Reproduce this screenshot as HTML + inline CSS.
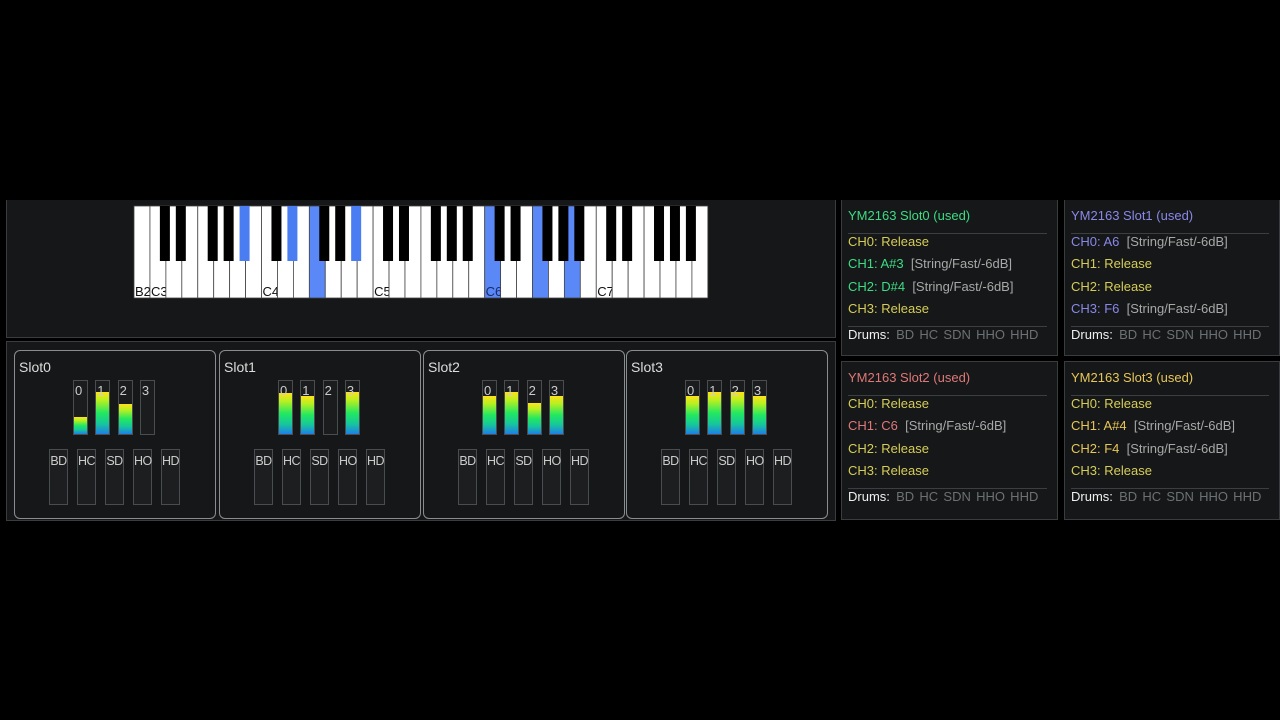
<!DOCTYPE html>
<html><head><meta charset="utf-8">
<style>
html,body{margin:0;padding:0;background:#000;width:1280px;height:720px;overflow:hidden;font-family:"Liberation Sans",sans-serif;}
#root{position:relative;width:1280px;height:720px;}
.abs{position:absolute;}
.panel{position:absolute;background:#151718;border:1px solid #3a3d3f;box-sizing:border-box;}
.slot{position:absolute;border:1px solid #8a8d8f;border-radius:6px;background:#151718;box-sizing:border-box;}
.slot-title{position:absolute;left:4px;top:8px;color:#ddd;font-size:14px;}
.meter{position:absolute;width:15px;height:55px;border:1px solid #4a4d4f;box-sizing:border-box;background:#1a1c1d;}
.fill{position:absolute;left:0;right:0;bottom:0;background:linear-gradient(to top,#1e7fe8 0%,#16c89a 25%,#22e860 50%,#b8f020 80%,#ffe21a 100%);}
.mlabel{position:absolute;left:1px;top:2px;font-size:13px;color:#ccc;}
.drum{position:absolute;width:19px;height:56px;border:1px solid #4a4d4f;box-sizing:border-box;background:#1c1e1f;color:#ccc;font-size:12.5px;letter-spacing:-0.5px;text-align:center;padding-top:4px;}
.info{position:absolute;background:#151718;border:1px solid #3a3d3f;box-sizing:border-box;font-size:13px;}
.info .ln{position:absolute;left:6px;white-space:nowrap;}
.info .hr{position:absolute;left:6px;right:10px;height:1px;background:#3c3f41;}
.gray{color:#a8a8a8;}
.dr{color:#6e7173;word-spacing:-1px;}
</style></head>
<body>
<div id="root">
  <div class="panel" style="left:6px;top:200px;width:830px;height:138px;border-top:none;"></div>
  <svg id="piano" class="abs" style="left:0;top:0" width="840" height="340"></svg>
  <div class="panel" style="left:6px;top:341px;width:830px;height:180px;"></div>
  <div id="slots"></div>

  <div class="info" style="left:841px;top:200px;width:217px;height:156px;border-top:none;">
    <div class="ln" style="top:8px;color:#3ddc84">YM2163 Slot0 (used)</div>
    <div class="hr" style="top:33px"></div>
    <div class="ln" style="top:34px;color:#d6cd58">CH0: Release</div>
    <div class="ln" style="top:56px;color:#3ddc84">CH1: A#3 <span class="gray">&nbsp;[String/Fast/-6dB]</span></div>
    <div class="ln" style="top:79px;color:#3ddc84">CH2: D#4 <span class="gray">&nbsp;[String/Fast/-6dB]</span></div>
    <div class="ln" style="top:101px;color:#d6cd58">CH3: Release</div>
    <div class="hr" style="top:126px"></div>
    <div class="ln" style="top:127px;color:#f0f0f0">Drums: <span class="dr">&nbsp;BD&nbsp; HC&nbsp; SDN&nbsp; HHO&nbsp; HHD</span></div>
  </div>
  <div class="info" style="left:1064px;top:200px;width:216px;height:156px;border-top:none;">
    <div class="ln" style="top:8px;color:#8a88e8">YM2163 Slot1 (used)</div>
    <div class="hr" style="top:33px"></div>
    <div class="ln" style="top:34px;color:#8a88e8">CH0: A6 <span class="gray">&nbsp;[String/Fast/-6dB]</span></div>
    <div class="ln" style="top:56px;color:#d6cd58">CH1: Release</div>
    <div class="ln" style="top:79px;color:#d6cd58">CH2: Release</div>
    <div class="ln" style="top:101px;color:#8a88e8">CH3: F6 <span class="gray">&nbsp;[String/Fast/-6dB]</span></div>
    <div class="hr" style="top:126px"></div>
    <div class="ln" style="top:127px;color:#f0f0f0">Drums: <span class="dr">&nbsp;BD&nbsp; HC&nbsp; SDN&nbsp; HHO&nbsp; HHD</span></div>
  </div>
  <div class="info" style="left:841px;top:361px;width:217px;height:159px;">
    <div class="ln" style="top:8px;color:#e07878">YM2163 Slot2 (used)</div>
    <div class="hr" style="top:33px"></div>
    <div class="ln" style="top:34px;color:#d6cd58">CH0: Release</div>
    <div class="ln" style="top:56px;color:#e07878">CH1: C6 <span class="gray">&nbsp;[String/Fast/-6dB]</span></div>
    <div class="ln" style="top:79px;color:#d6cd58">CH2: Release</div>
    <div class="ln" style="top:101px;color:#d6cd58">CH3: Release</div>
    <div class="hr" style="top:126px"></div>
    <div class="ln" style="top:127px;color:#f0f0f0">Drums: <span class="dr">&nbsp;BD&nbsp; HC&nbsp; SDN&nbsp; HHO&nbsp; HHD</span></div>
  </div>
  <div class="info" style="left:1064px;top:361px;width:216px;height:159px;">
    <div class="ln" style="top:8px;color:#e8c658">YM2163 Slot3 (used)</div>
    <div class="hr" style="top:33px"></div>
    <div class="ln" style="top:34px;color:#d6cd58">CH0: Release</div>
    <div class="ln" style="top:56px;color:#e8c658">CH1: A#4 <span class="gray">&nbsp;[String/Fast/-6dB]</span></div>
    <div class="ln" style="top:79px;color:#e8c658">CH2: F4 <span class="gray">&nbsp;[String/Fast/-6dB]</span></div>
    <div class="ln" style="top:101px;color:#d6cd58">CH3: Release</div>
    <div class="hr" style="top:126px"></div>
    <div class="ln" style="top:127px;color:#f0f0f0">Drums: <span class="dr">&nbsp;BD&nbsp; HC&nbsp; SDN&nbsp; HHO&nbsp; HHD</span></div>
  </div>
</div>
<script>
// Chart data
const pressedNotes = ["A#3","D#4","F4","A#4","C6","F6","A6"];
const slotNames = ["Slot0","Slot1","Slot2","Slot3"];
const slot0Levels = [0.31, 0.76, 0.55, 0];
const slot1Levels = [0.75, 0.69, 0, 0.76];
const slot2Levels = [0.69, 0.76, 0.56, 0.69];
const slot3Levels = [0.69, 0.76, 0.76, 0.69];
const channelLabels = ["0","1","2","3"];
const drumLabels = ["BD","HC","SD","HO","HD"];

const NS = "http://www.w3.org/2000/svg";
const svg = document.getElementById("piano");
const X0 = 134, WW = 15.94, Y0 = 206, WH = 92, BH = 55, BW = 10;
const whiteNames = ["C","D","E","F","G","A","B"];
const whites = [{n:"B",o:2}];
for (let o=3;o<=7;o++) for (const n of whiteNames) whites.push({n:n,o:o});
const hasSharp = {C:1,D:1,F:1,G:1,A:1};
function keyX(i){ return X0 + i*WW; }
whites.forEach((k,i)=>{
  const name = k.n+k.o;
  const r = document.createElementNS(NS,"rect");
  r.setAttribute("x",keyX(i)); r.setAttribute("y",Y0);
  r.setAttribute("width",WW); r.setAttribute("height",WH);
  r.setAttribute("fill", pressedNotes.includes(name) ? "#5a88f6" : "#ffffff");
  r.setAttribute("stroke","#444"); r.setAttribute("stroke-width","0.8");
  
  
  svg.appendChild(r);
  if (k.n==="C" || name==="B2") {
    const t = document.createElementNS(NS,"text");
    t.setAttribute("x",keyX(i)+1); t.setAttribute("y",Y0+WH-2);
    t.setAttribute("font-size","13"); t.setAttribute("font-family","Liberation Sans, sans-serif");
    t.setAttribute("fill", pressedNotes.includes(name) ? "#1a2a6a" : "#111");
    t.textContent = name;
    
    
    svg.appendChild(t);
  }
});
whites.forEach((k,i)=>{
  if (i===whites.length-1) return;
  if (!hasSharp[k.n]) return;
  const name = k.n+"#"+k.o;
  const bx = keyX(i+1) - 6;
  const r = document.createElementNS(NS,"rect");
  r.setAttribute("x",bx); r.setAttribute("y",Y0);
  r.setAttribute("width",BW); r.setAttribute("height",BH);
  r.setAttribute("fill", pressedNotes.includes(name) ? "#4a7cf2" : "#000");
  
  
  svg.appendChild(r);
});

const levels = [slot0Levels, slot1Levels, slot2Levels, slot3Levels];
const slotX = [14, 219, 423, 626];
const slotsDiv = document.getElementById("slots");
const MH = 55;
function yScale(v){ return v*MH; }
slotNames.forEach((s,si)=>{
  const box = document.createElement("div");
  box.className = "slot";
  box.style.left = slotX[si]+"px"; box.style.top = "350px";
  box.style.width = "202px"; box.style.height = "169px";
  
  
  const t = document.createElement("div");
  t.className = "slot-title"; t.textContent = s;
  
  
  box.appendChild(t);
  channelLabels.forEach((c,ci)=>{
    const m = document.createElement("div");
    m.className = "meter";
    m.style.left = (58 + ci*22.3)+"px"; m.style.top = "29px";
    
    
    const f = document.createElement("div");
    f.className = "fill";
    f.style.height = yScale(levels[si][ci])+"px";
    
    
    m.appendChild(f);
    const l = document.createElement("div");
    l.className = "mlabel"; l.textContent = c;
    
    
    m.appendChild(l);
    box.appendChild(m);
  });
  drumLabels.forEach((d,di)=>{
    const b = document.createElement("div");
    b.className = "drum";
    b.style.left = (34 + di*28)+"px"; b.style.top = "98px";
    b.textContent = d;
    
    
    box.appendChild(b);
  });
  slotsDiv.appendChild(box);
});
</script>
</body></html>
